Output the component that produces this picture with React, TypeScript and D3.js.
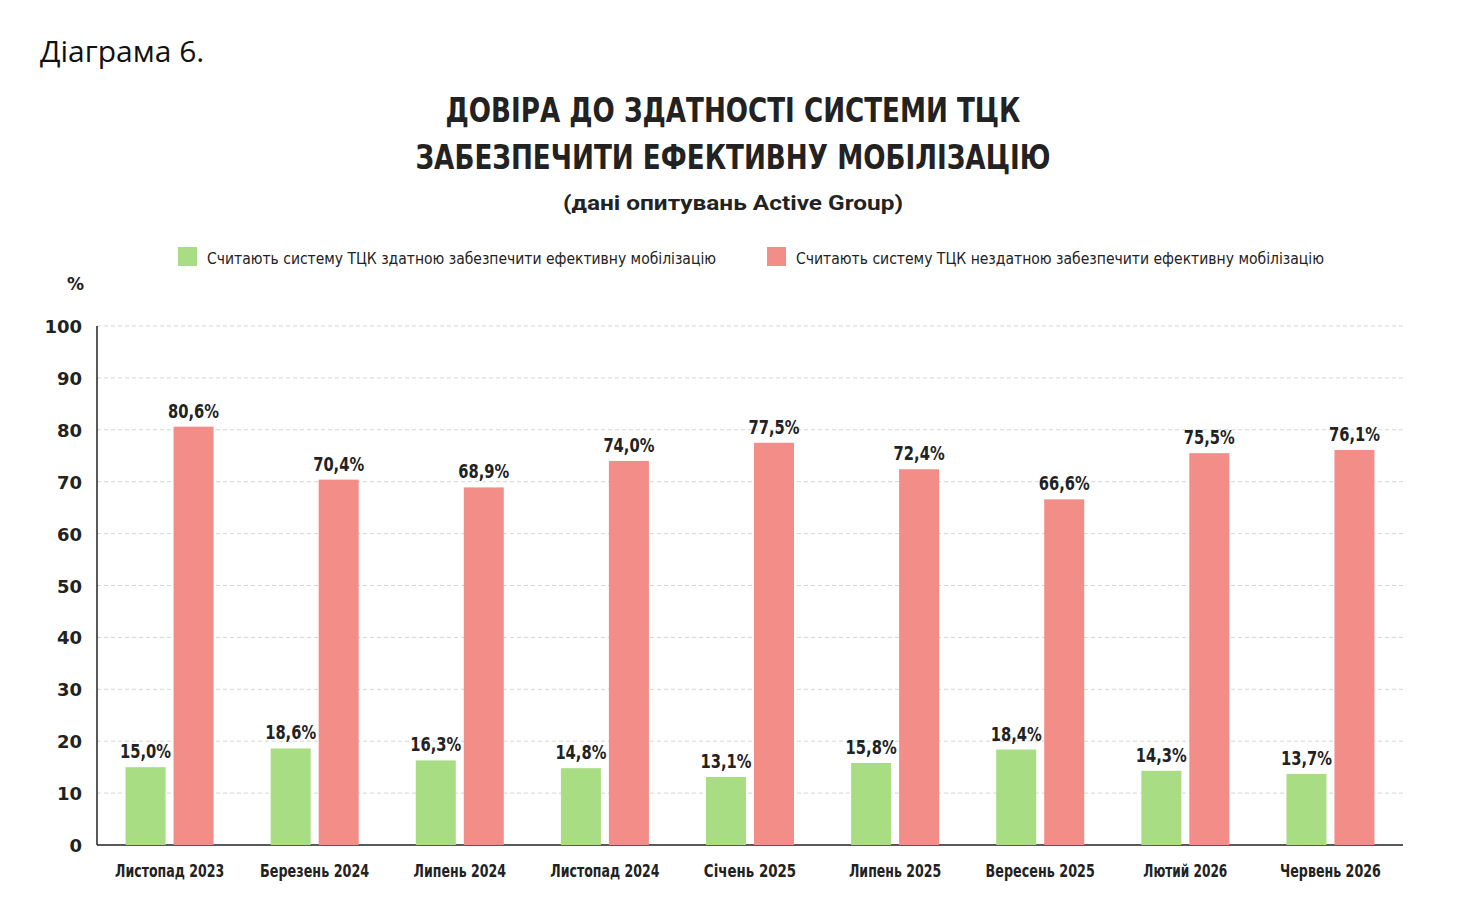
import * as d3 from 'd3'

const categories = ['Листопад 2023', 'Березень 2024', 'Липень 2024', 'Листопад 2024', 'Січень 2025', 'Липень 2025', 'Вересень 2025', 'Лютий 2026', 'Червень 2026']
const capable = [15.0, 18.6, 16.3, 14.8, 13.1, 15.8, 18.4, 14.3, 13.7]
const incapable = [80.6, 70.4, 68.9, 74.0, 77.5, 72.4, 66.6, 75.5, 76.1]
const yTicks = [0, 10, 20, 30, 40, 50, 60, 70, 80, 90, 100]

const GREEN = '#a9dd84'
const RED = '#f28d87'
const FONT = "'DejaVu Sans', sans-serif"

export default function App() {
  const width = 1480
  const height = 905
  const left = 97
  const right = 1403
  const top = 326
  const bottom = 845

  const x = d3.scaleBand<string>().domain(categories).range([left, right])
  const y = d3.scaleLinear().domain([0, 100]).range([bottom, top])
  const barW = 40
  const gap = 8
  const fmt = (v: number) => v.toFixed(1).replace('.', ',') + '%'

  return (
    <svg width={width} height={height} style={{ position: 'absolute', left: 0, top: 0, background: '#fff' }}>
      <text x={40} y={62} fontFamily="'Open Sans', sans-serif" fontSize={30} fill="#111">Діаграма 6.</text>
      <g fontFamily={FONT} fontWeight="bold" fill="#222" textAnchor="middle">
        <text x={733} y={122} fontSize={34} textLength={575} lengthAdjust="spacingAndGlyphs">ДОВІРА ДО ЗДАТНОСТІ СИСТЕМИ ТЦК</text>
        <text x={733} y={169} fontSize={34} textLength={635} lengthAdjust="spacingAndGlyphs">ЗАБЕЗПЕЧИТИ ЕФЕКТИВНУ МОБІЛІЗАЦІЮ</text>
        <text x={733} y={210} fontSize={21} fontFamily="Roboto, sans-serif" textLength={340} lengthAdjust="spacingAndGlyphs">(дані опитувань Active Group)</text>
      </g>
      <g fontFamily={FONT} fontSize={16} fill="#222">
        <rect x={178} y={247} width={19} height={19} fill={GREEN} />
        <text x={207} y={264} textLength={509} lengthAdjust="spacingAndGlyphs">Считають систему ТЦК здатною забезпечити ефективну мобілізацію</text>
        <rect x={767} y={247} width={19} height={19} fill={RED} />
        <text x={796} y={264} textLength={528} lengthAdjust="spacingAndGlyphs">Считають систему ТЦК нездатною забезпечити ефективну мобілізацію</text>
        <text x={67} y={290} fontWeight="bold" fontSize={17}>%</text>
      </g>
      {yTicks.map(t => (
        <g key={t}>
          {t > 0 && <line x1={left} x2={right} y1={y(t)} y2={y(t)} stroke="#d6d6d6" strokeDasharray="4,3" />}
          <text x={82} y={y(t) + 7} textAnchor="end" fontFamily={FONT} fontWeight="bold" fontSize={18} fill="#222">{t}</text>
        </g>
      ))}
      <line x1={left} x2={left} y1={top} y2={bottom} stroke="#222" strokeWidth={1.5} />
      <line x1={left} x2={right} y1={bottom} y2={bottom} stroke="#222" strokeWidth={1.5} />
      {categories.map((c, i) => {
        const cx = (x(c) || 0) + x.bandwidth() / 2
        const gx = cx - gap / 2 - barW
        const rx = cx + gap / 2
        return (
          <g key={c} fontFamily={FONT} fontWeight="bold" fill="#222" textAnchor="middle">
            <rect x={gx} y={y(capable[i])} width={barW} height={bottom - y(capable[i])} fill={GREEN} />
            <rect x={rx} y={y(incapable[i])} width={barW} height={bottom - y(incapable[i])} fill={RED} />
            <text x={gx + barW / 2} y={y(capable[i]) - 9} fontSize={20} textLength={51} lengthAdjust="spacingAndGlyphs">{fmt(capable[i])}</text>
            <text x={rx + barW / 2} y={y(incapable[i]) - 9} fontSize={20} textLength={51} lengthAdjust="spacingAndGlyphs">{fmt(incapable[i])}</text>
            <text x={cx} y={877} fontSize={17} textLength={c.length * 8.4} lengthAdjust="spacingAndGlyphs">{c}</text>
          </g>
        )
      })}
    </svg>
  )
}
